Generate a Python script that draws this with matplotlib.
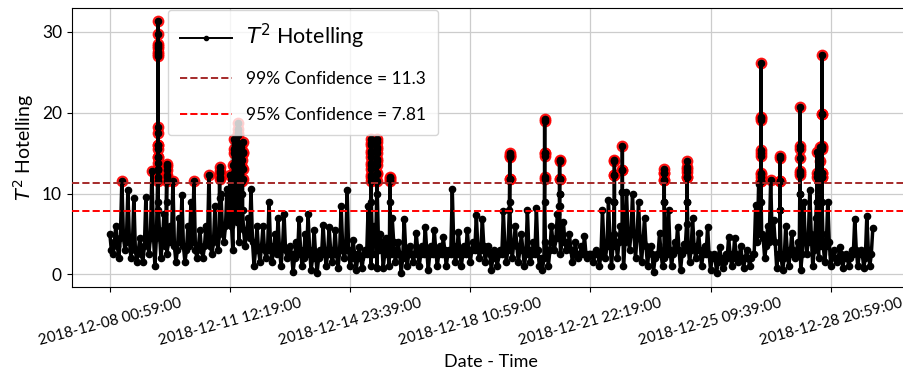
import numpy as np
import matplotlib
matplotlib.use("Agg")
import matplotlib.pyplot as plt
from matplotlib.lines import Line2D

plt.rcParams['font.family'] = ['Lato', 'DejaVu Sans']
plt.rcParams['mathtext.fontset'] = 'dejavusans'

# ---- data -------------------------------------------------------------
start_label = "2018-12-08 00:59:00"
sample_step_min = 125          # minutes between base samples

# base series (every ~125 minutes)
base_values = [
    5.0, 2.5, 6.0, 2.0, 11.6, 3.0, 10.4, 2.0, 9.5, 1.5,
    4.5, 1.5, 9.6, 2.5, 12.8, 1.0, 8.0, 2.0, 7.5, 2.5,
    6.0, 11.5, 1.5, 7.0, 9.8, 1.5, 6.0, 9.0, 11.5, 2.0,
    5.5, 2.0, 6.0, 12.3, 2.5, 8.5, 3.0, 10.0, 4.0, 10.5,
    12.3, 3.0, 9.5, 4.0, 10.0, 3.5, 7.0, 10.5, 1.0, 6.0,
    1.5, 6.0, 2.0, 9.0, 1.5, 5.0, 7.0, 1.0, 7.5, 2.0,
    3.5, 0.3, 4.0, 6.8, 1.0, 5.0, 7.5, 0.5, 5.5, 0.2,
    3.0, 6.1, 1.0, 5.8, 1.5, 5.5, 0.8, 8.5, 2.0, 10.4,
    1.0, 4.2, 0.5, 3.4, 0.8, 3.0, 8.4, 1.0, 6.0, 0.8,
    5.0, 0.8, 4.5, 1.0, 7.0, 1.5, 4.0, 0.2, 6.9, 1.0,
    3.5, 1.5, 5.1, 1.0, 3.5, 5.9, 0.5, 3.5, 5.5, 1.0,
    3.5, 4.6, 1.0, 3.0, 10.5, 1.5, 5.3, 1.0, 3.5, 5.5,
    1.5, 4.0, 7.3, 2.0, 6.9, 1.5, 3.5, 0.5, 3.0, 1.0,
    3.0, 7.8, 1.5, 8.0, 2.0, 6.0, 1.5, 5.0, 1.0, 8.0,
    1.5, 4.0, 8.2, 1.0, 0.5, 4.0, 1.0, 6.0, 3.0, 7.5,
    2.5, 6.5, 3.0, 5.0, 1.5, 4.0, 2.0, 3.5, 4.8, 2.0,
    2.5, 1.5, 3.0, 1.0, 8.0, 2.0, 9.2, 1.0, 5.0, 2.0,
    6.0, 1.0, 10.2, 3.0, 10.0, 2.0, 9.0, 1.5, 7.0, 1.0,
    3.5, 0.3, 2.5, 5.1, 1.0, 3.8, 8.0, 1.0, 4.0, 5.9,
    0.5, 3.8, 6.2, 1.5, 7.0, 2.0, 5.1, 1.0, 3.5, 5.9,
    0.5, 2.5, 0.2, 3.4, 0.8, 2.5, 4.6, 1.0, 4.5, 1.5,
    3.5, 0.8, 3.0, 1.0, 2.5, 8.6, 11.2, 5.0, 2.0, 6.0,
    11.7, 6.7, 0.8, 2.5, 0.5, 6.0, 1.0, 5.1, 2.0, 4.0,
    0.5, 9.0, 2.5, 10.4, 1.0, 7.0, 2.0, 5.0, 1.5, 9.0,
    1.0, 3.0, 1.5, 3.4, 0.8, 2.5, 1.0, 3.0, 6.9, 1.0,
    3.0, 0.8, 7.2, 1.0, 5.7,
]

# typical body level of the dense band between the base samples
body_values = [
    3.0, 4.0, 3.5, 4.5, 5.0, 4.0, 4.5, 3.5, 3.0, 3.0,
    2.5, 3.5, 4.0, 4.5, 5.0, 4.5, 5.5, 4.0, 3.5, 4.0,
    4.0, 3.5, 3.0, 4.0, 3.5, 3.0, 3.5, 4.0, 3.0, 3.5,
    3.0, 3.5, 4.0, 3.5, 4.0, 4.5, 5.0, 5.5, 6.0, 6.5,
    6.0, 7.0, 6.5, 6.0, 5.5, 5.0, 4.5, 4.0, 3.0, 3.0,
    3.5, 3.0, 3.0, 3.5, 3.0, 2.5, 3.0, 3.5, 3.0, 2.5,
    2.5, 2.0, 2.5, 3.0, 2.0, 2.5, 3.0, 2.0, 2.5, 2.0,
    2.5, 3.0, 2.5, 3.0, 2.5, 2.5, 3.0, 3.5, 3.0, 3.0,
    2.0, 2.5, 2.0, 2.0, 2.5, 2.5, 3.5, 2.5, 4.0, 3.0,
    4.0, 2.5, 3.0, 2.5, 4.0, 2.5, 2.5, 2.0, 3.0, 2.5,
    2.5, 2.5, 3.0, 2.5, 2.5, 3.0, 2.5, 2.5, 3.0, 2.5,
    2.5, 3.0, 2.5, 2.5, 3.5, 2.5, 3.0, 2.5, 2.5, 3.0,
    3.0, 3.0, 3.5, 3.0, 3.5, 3.0, 2.5, 2.0, 2.0, 2.5,
    2.5, 3.5, 3.0, 3.5, 4.0, 3.5, 3.0, 3.0, 2.5, 3.0,
    2.5, 2.5, 3.0, 2.0, 2.0, 3.0, 3.0, 4.0, 4.5, 4.5,
    4.0, 4.0, 3.5, 3.0, 2.5, 2.5, 2.5, 2.5, 2.5, 2.5,
    2.5, 2.5, 2.5, 2.5, 3.5, 3.5, 4.0, 3.5, 4.0, 4.0,
    4.5, 4.0, 5.0, 5.0, 5.0, 4.5, 4.5, 4.0, 3.5, 3.0,
    2.5, 2.0, 2.5, 2.5, 2.0, 2.5, 3.0, 2.5, 3.0, 3.0,
    2.5, 3.0, 3.5, 3.0, 3.5, 3.0, 3.0, 2.5, 2.5, 2.5,
    2.0, 2.0, 1.5, 2.0, 1.5, 2.0, 2.5, 2.0, 2.5, 2.0,
    2.0, 2.0, 2.0, 2.0, 2.5, 4.0, 5.0, 4.5, 3.5, 4.0,
    4.5, 4.0, 2.5, 2.0, 2.0, 3.0, 2.5, 3.0, 2.5, 2.5,
    2.5, 4.5, 4.0, 5.0, 3.0, 4.0, 3.5, 3.5, 3.5, 4.0,
    2.5, 2.0, 2.0, 2.5, 2.0, 2.0, 2.0, 2.5, 3.0, 2.5,
    2.5, 2.0, 3.0, 2.5,
]

# short bursts (minute-resolution) with their start minute
burst_start_min = [1990, 2365, 4564, 5145, 5311, 5435, 5518, 10870, 11119,
                   11658, 16637, 18090, 18712, 20994, 21326, 23068, 24023,
                   27093, 27881, 28711, 29416, 29540, 29623]
burst_values = [
    [12.0, 13.0, 14.5, 15.5, 16.0, 17.5, 18.2, 27.0, 27.5, 28.0, 28.5, 29.8,
     31.4, 28.3, 27.3, 16.0, 14.5, 13.8, 12.9, 11.5, 9.0],
    [11.5, 12.3, 13.4, 13.6, 12.9, 12.0, 9.0],
    [11.8, 12.5, 13.3, 12.8, 12.0, 9.5],
    [11.8, 13.5, 15.5, 16.8, 15.0, 12.5, 9.0],
    [12.0, 14.0, 16.0, 17.2, 18.0, 18.7, 17.5, 16.2, 14.8, 13.0, 10.0],
    [11.5, 13.0, 14.5, 15.8, 13.5, 11.6],
    [11.6, 13.2, 14.1, 15.2, 16.4, 15.0, 13.0, 11.8, 8.0],
    [11.5, 12.3, 13.0, 13.8, 14.5, 15.3, 16.0, 16.7, 16.2, 15.0, 13.5, 12.0, 9.0],
    [11.6, 12.5, 13.5, 14.3, 15.0, 15.8, 16.4, 16.7, 15.5, 14.0, 12.4, 10.0],
    [11.5, 11.9, 12.1, 11.7, 9.0],
    [11.8, 14.5, 14.8, 15.0, 14.6, 11.8, 9.0],
    [11.8, 14.6, 15.0, 19.0, 19.2, 15.0, 12.0, 9.0],
    [8.4, 10.0, 11.8, 14.0, 14.2, 11.8, 10.0, 8.4],
    [9.0, 12.3, 14.0, 14.2, 12.3, 9.0],
    [10.2, 12.9, 15.9, 12.9, 10.2],
    [9.0, 11.7, 12.5, 13.0, 12.5, 11.7, 9.0],
    [9.0, 12.0, 12.7, 13.3, 14.0, 13.0, 12.0, 9.0],
    [11.5, 12.1, 12.6, 14.6, 15.4, 19.1, 19.5, 26.1, 19.3, 15.0, 12.4, 11.6, 9.0],
    [8.0, 11.5, 14.6, 14.4, 11.5, 8.0],
    [10.0, 12.3, 12.8, 14.4, 15.9, 20.7, 15.5, 12.6, 10.0],
    [9.0, 12.0, 15.1, 12.5, 9.0],
    [12.0, 15.8, 14.0],
    [12.0, 12.6, 15.5, 15.9, 19.9, 27.1, 19.9, 15.8, 12.6, 12.0, 9.0],
]

limit_99 = 11.3
limit_95 = 7.81

tick_minutes = [0, 5000, 10000, 15000, 20000, 25000, 30000]
tick_labels = ["2018-12-08 00:59:00", "2018-12-11 12:19:00",
               "2018-12-14 23:39:00", "2018-12-18 10:59:00",
               "2018-12-21 22:19:00", "2018-12-25 09:39:00",
               "2018-12-28 20:59:00"]

# ---- assemble series ---------------------------------------------------
t_list = list(np.arange(len(base_values)) * sample_step_min)
v_list = list(base_values)
t_list += list(np.arange(len(body_values)) * sample_step_min + sample_step_min / 2)
v_list += list(body_values)
for s, vals in zip(burst_start_min, burst_values):
    for k, val in enumerate(vals):
        t_list.append(s + k)
        v_list.append(val)
t = np.array(t_list, dtype=float)
v = np.array(v_list, dtype=float)
order = np.argsort(t, kind="stable")
t, v = t[order], v[order]

# ---- plot --------------------------------------------------------------
fig = plt.figure(figsize=(9.04, 3.83), dpi=100)
ax = fig.add_axes([0.0793, 0.2514, 0.9284, 0.7269])

out = v > limit_99
ax.plot(t[out], v[out], 'o', color='red', ms=7.5, alpha=0.85, zorder=2)
ax.plot(t, v, '-', color='black', lw=2.5, marker='o', ms=4.5, zorder=3)

ax.axhline(limit_99, color='brown', ls='--', lw=1.4, zorder=4)
ax.axhline(limit_95, color='red', ls='--', lw=1.4, zorder=4)

ax.set_ylim(-1.53, 32.92)
ax.set_yticks([0, 10, 20, 30])
ax.set_xticks(tick_minutes)
ax.set_xticklabels(tick_labels, rotation=15, fontsize=11)
ax.tick_params(axis='y', labelsize=12.5)
ax.grid(True, color='#cccccc', lw=0.9)
ax.set_axisbelow(True)

ax.set_ylabel(r'$T^2$ Hotelling', fontsize=14)
ax.set_xlabel('Date - Time', fontsize=13)

handles = [
    Line2D([], [], color='black', lw=1.4, marker='o', ms=3),
    Line2D([], [], color='brown', ls='--', lw=1.4),
    Line2D([], [], color='red', ls='--', lw=1.4),
]
labels = [r'$T^2$ Hotelling', '99% Confidence = 11.3', '95% Confidence = 7.81']
leg = ax.legend(handles, labels, loc='upper left',
                bbox_to_anchor=(168 / 904, 1 - 10 / 383),
                bbox_transform=fig.transFigure, fontsize=12.5,
                borderaxespad=0.0, handlelength=3.0, labelspacing=1.15,
                borderpad=0.7, framealpha=0.8)
leg.get_texts()[0].set_fontsize(15.5)
leg.set_zorder(10)

fig.savefig('out.png', dpi=100)
